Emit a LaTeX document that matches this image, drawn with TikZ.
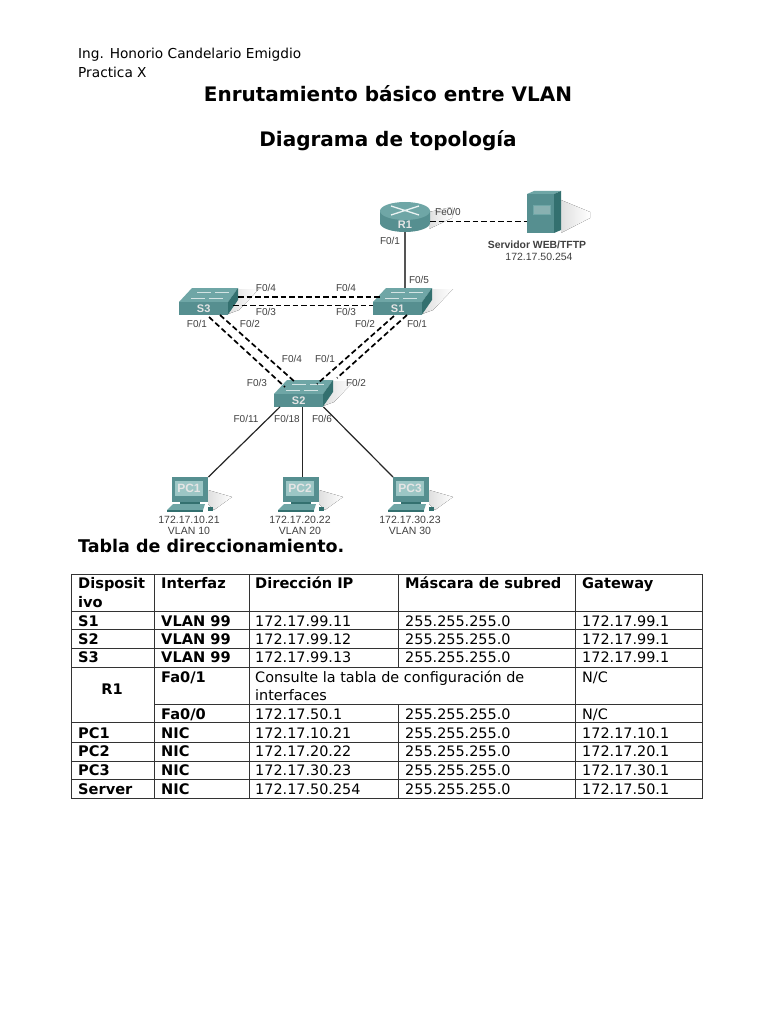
\documentclass[tikz,border=0pt]{standalone}
\usepackage{fontspec}
\setmainfont{DejaVu Sans}
\newfontfamily\labelfont{Liberation Sans}
\usetikzlibrary{arrows.meta}
\definecolor{ciscoface}{HTML}{568F90}
\definecolor{ciscotop}{HTML}{6FA6A6}
\definecolor{ciscoside}{HTML}{33706F}
\definecolor{ciscoscreen}{HTML}{9CC6C5}
\definecolor{linkgray}{HTML}{555555}
\newcommand{\bodyfont}{\fontsize{14.4}{17}\selectfont}
\tikzset{
	port/.style={font=\labelfont\fontsize{10}{11}\selectfont, text=black!75, inner sep=0pt},
	caption/.style={font=\labelfont\fontsize{10.5}{12}\selectfont, text=black!75, inner sep=0pt},
	devname/.style={font=\labelfont\bfseries\fontsize{11}{12}\selectfont, text=white!90!black, inner sep=0pt},
	cell/.style={font=\bodyfont, anchor=base west, inner sep=0pt},
	heavycell/.style={cell, font=\fontsize{14.6}{17}\selectfont\bfseries},
	heading/.style={font=\fontsize{20}{24}\selectfont\bfseries, inner sep=0pt},
	softshadow/.style={left color=gray!25, right color=white},
	trunk/.style={line width=1.7pt, dash pattern=on 5.5pt off 3pt},
	access/.style={line width=1.2pt, black!85},
	grid/.style={line width=0.8pt, black!80},
}
\begin{document}
\begin{tikzpicture}[x=1pt, y=-1pt]
	\useasboundingbox[fill=white] (0,0) rectangle (768,1024);
	% header
	\node[cell, font=\fontsize{13.7}{16}\selectfont] (author) at (78,59) {Ing. Honorio Candelario Emigdio};
	\node[cell, font=\fontsize{13.7}{16}\selectfont] (practice) at (78,78) {Practica X};
	\node[heading] (title) at (388,94) {Enrutamiento básico entre VLAN};
	\node[heading] (subtitle) at (388,141) {Diagrama de topología};
	\node[heading, font=\fontsize{17.5}{20}\selectfont\bfseries, anchor=base west] (tabletitle) at (78,552) {Tabla de direccionamiento.};
	% router
	\fill[softshadow] (429,212) -- (452,207) -- (452,218) -- (429,229) -- cycle;
	\fill[ciscoface] (380,211) -- (380,223) arc[start angle=180, end angle=0, x radius=25, y radius=9] -- (430,211) -- cycle;
	\fill[ciscotop] (405,211) ellipse[x radius=25, y radius=9];
	\draw[white!85!ciscotop, line width=1.3pt] (391,206) -- (419,215) (419,206) -- (391,215);
	\node[devname, minimum width=50pt, minimum height=14pt] (R1) at (405,225) {R1};
	% server
	\fill[softshadow] (561,200) -- (590,212) -- (590,218) -- (561,233) -- cycle;
	\fill[ciscotop] (527,194) -- (534,191) -- (561,191) -- (554,194) -- cycle;
	\fill[ciscoside] (554,194) -- (561,191) -- (561,230) -- (554,233) -- cycle;
	\node[fill=ciscoface, minimum width=27pt, minimum height=39pt, inner sep=0pt] (server) at (540.5,213.5) {};
	\node[draw=ciscotop, fill=ciscoface!70!white, minimum width=17pt, minimum height=9pt, inner sep=0pt] (serverdisk) at (541.5,210) {};
	\node[caption, font=\labelfont\bfseries\fontsize{10.4}{12}\selectfont] (servername) at (537,245) {Servidor WEB/TFTP};
	\node[caption] (serverip) at (539,257) {172.17.50.254};
	% switches
	\foreach \name/\xx/\yy in {S1/373/302, S2/274/394, S3/179/302} {
		\fill[softshadow] (\xx+49,\yy+12) -- (\xx+59,\yy-13) -- (\xx+80,\yy-13) -- (\xx+60,\yy+8) -- cycle;
		\fill[ciscotop] (\xx,\yy) -- (\xx+13,\yy-14) -- (\xx+59,\yy-14) -- (\xx+49,\yy) -- cycle;
		\fill[ciscoside] (\xx+49,\yy) -- (\xx+59,\yy-14) -- (\xx+59,\yy-2) -- (\xx+49,\yy+12.5) -- cycle;
		\draw[white!70!ciscotop, line width=1pt] (\xx+12,\yy-4) -- (\xx+26,\yy-4) (\xx+30,\yy-4) -- (\xx+44,\yy-4)
			(\xx+18,\yy-10) -- (\xx+32,\yy-10) (\xx+36,\yy-10) -- (\xx+50,\yy-10);
		\node[devname, fill=ciscoface, minimum width=49pt, minimum height=12.5pt, anchor=north west] (\name) at (\xx,\yy) {\name};
	}
	% PCs
	\foreach \name/\xx/\ipaddr/\vlan in {PC1/172/172.17.10.21/VLAN 10, PC2/283/172.17.20.22/VLAN 20, PC3/393/172.17.30.23/VLAN 30} {
		\fill[softshadow] (\xx+36,490) -- (\xx+60,497) -- (\xx+42,510) -- (\xx+36,504) -- cycle;
		\fill[ciscoside] (\xx+8,501) rectangle (\xx+28,504);
		\fill[ciscotop] (\xx+1,504) -- (\xx+33,504) -- (\xx+31,510) -- (\xx-5,510) -- cycle;
		\fill[ciscoside] (\xx-5,510) rectangle (\xx+31,512);
		\fill[ciscoside] (\xx+36,507) rectangle (\xx+41,511);
		\node[fill=ciscoface, minimum width=36pt, minimum height=25pt, inner sep=0pt, anchor=north west] (\name box) at (\xx,477) {};
		\node[devname, fill=ciscoscreen, minimum width=28pt, minimum height=15pt, font=\labelfont\bfseries\fontsize{12}{13}\selectfont] (\name) at (\xx+17,488) {\name};
		\node[caption] (\name ip) at (\xx+17,520) {\ipaddr};
		\node[caption] (\name vlan) at (\xx+17,531) {\vlan};
	}
	% link ends
	\coordinate (S1top) at (405,288);
	\coordinate (S3e1) at (238,297);
	\coordinate (S1w1) at (380,297);
	\coordinate (S3e2) at (233,305.5);
	\coordinate (S1w2) at (373,305.5);
	\coordinate (S3s1) at (209,317);
	\coordinate (S2n1) at (285,387);
	\coordinate (S3s2) at (220,315);
	\coordinate (S2n2) at (295,382);
	\coordinate (S1s1) at (394,316);
	\coordinate (S2n3) at (317,384);
	\coordinate (S1s2) at (407,315);
	\coordinate (S2n4) at (337,378);
	% links
	\draw[line width=1.2pt, linkgray] (R1.south) -- (S1top);
	\draw[trunk] ([yshift=3.5pt]R1.east) -- ([yshift=-8pt]server.west);
	\draw[trunk] (S3e1) -- (S1w1);
	\draw[trunk] (S3e2) -- (S1w2);
	\draw[trunk] (S3s1) -- (S2n1);
	\draw[trunk] (S3s2) -- (S2n2);
	\draw[trunk] (S1s1) -- (S2n3);
	\draw[trunk] (S1s2) -- (S2n4);
	\draw[access] ([xshift=6pt]S2.south west) -- (PC1box.north east);
	\draw[access] ([xshift=3.5pt]S2.south) -- ([xshift=1pt]PC2box.north);
	\draw[access] (S2.south east) -- (PC3box.north west);
	% port labels
	\foreach \n/\xx/\yy/\txt in {a/448/212/{Fe0/0}, b/390/241/{F0/1}, c/419/280/{F0/5}, d/266/288/{F0/4}, e/346/288/{F0/4}, f/266/312/{F0/3}, g/346/312/{F0/3}, h/197/324/{F0/1}, i/250/324/{F0/2}, j/365/324/{F0/2}, k/417/324/{F0/1}, l/292/359/{F0/4}, m/325/359/{F0/1}, n/257/383/{F0/3}, o/356/383/{F0/2}, p/246/419/{F0/11}, q/287/419/{F0/18}, r/322/419/{F0/6}} {
		\node[port] (port\n) at (\xx,\yy) {\txt};
	}
	% table
	\draw[grid] (71,574) rectangle (702,798);
	\foreach \yy in {611,629,648,667,722,742,761,779} {
		\draw[grid] (71,\yy) -- (702,\yy);
	}
	\draw[grid] (154,704) -- (702,704);
	\draw[grid] (154,574) -- (154,798);
	\draw[grid] (249,574) -- (249,798);
	\draw[grid] (575,574) -- (575,798);
	\draw[grid] (398,574) -- (398,667);
	\draw[grid] (398,704) -- (398,798);
	\node[heavycell] (head1a) at (78,588) {Disposit};
	\node[heavycell] (head1b) at (78,607) {ivo};
	\node[heavycell] (head2) at (161,588) {Interfaz};
	\node[heavycell] (head3) at (255,588) {Dirección IP};
	\node[heavycell] (head4) at (405,588) {Máscara de subred};
	\node[heavycell] (head5) at (582,588) {Gateway};
	\foreach \n/\yy/\dev/\ifc/\ipaddr/\mask/\gw in {
		1/626/S1/VLAN 99/172.17.99.11/255.255.255.0/172.17.99.1,
		2/644/S2/VLAN 99/172.17.99.12/255.255.255.0/172.17.99.1,
		3/662/S3/VLAN 99/172.17.99.13/255.255.255.0/172.17.99.1,
		4/738/PC1/NIC/172.17.10.21/255.255.255.0/172.17.10.1,
		5/756/PC2/NIC/172.17.20.22/255.255.255.0/172.17.20.1,
		6/775/PC3/NIC/172.17.30.23/255.255.255.0/172.17.30.1,
		7/794/Server/NIC/172.17.50.254/255.255.255.0/172.17.50.1} {
		\node[heavycell] (dev\n) at (78,\yy) {\dev};
		\node[heavycell] (ifc\n) at (161,\yy) {\ifc};
		\node[cell] (ip\n) at (255,\yy) {\ipaddr};
		\node[cell] (mask\n) at (405,\yy) {\mask};
		\node[cell] (gw\n) at (582,\yy) {\gw};
	}
	\node[heavycell, anchor=base] (devR) at (112,694) {R1};
	\node[heavycell] (ifcA) at (161,682) {Fa0/1};
	\node[cell] (noteA) at (255,682) {Consulte la tabla de configuración de};
	\node[cell] (noteB) at (255,700) {interfaces};
	\node[cell] (gwA) at (582,682) {N/C};
	\node[heavycell] (ifcB) at (161,719) {Fa0/0};
	\node[cell] (ipB) at (255,719) {172.17.50.1};
	\node[cell] (maskB) at (405,719) {255.255.255.0};
	\node[cell] (gwB) at (582,719) {N/C};
\end{tikzpicture}
\end{document}
